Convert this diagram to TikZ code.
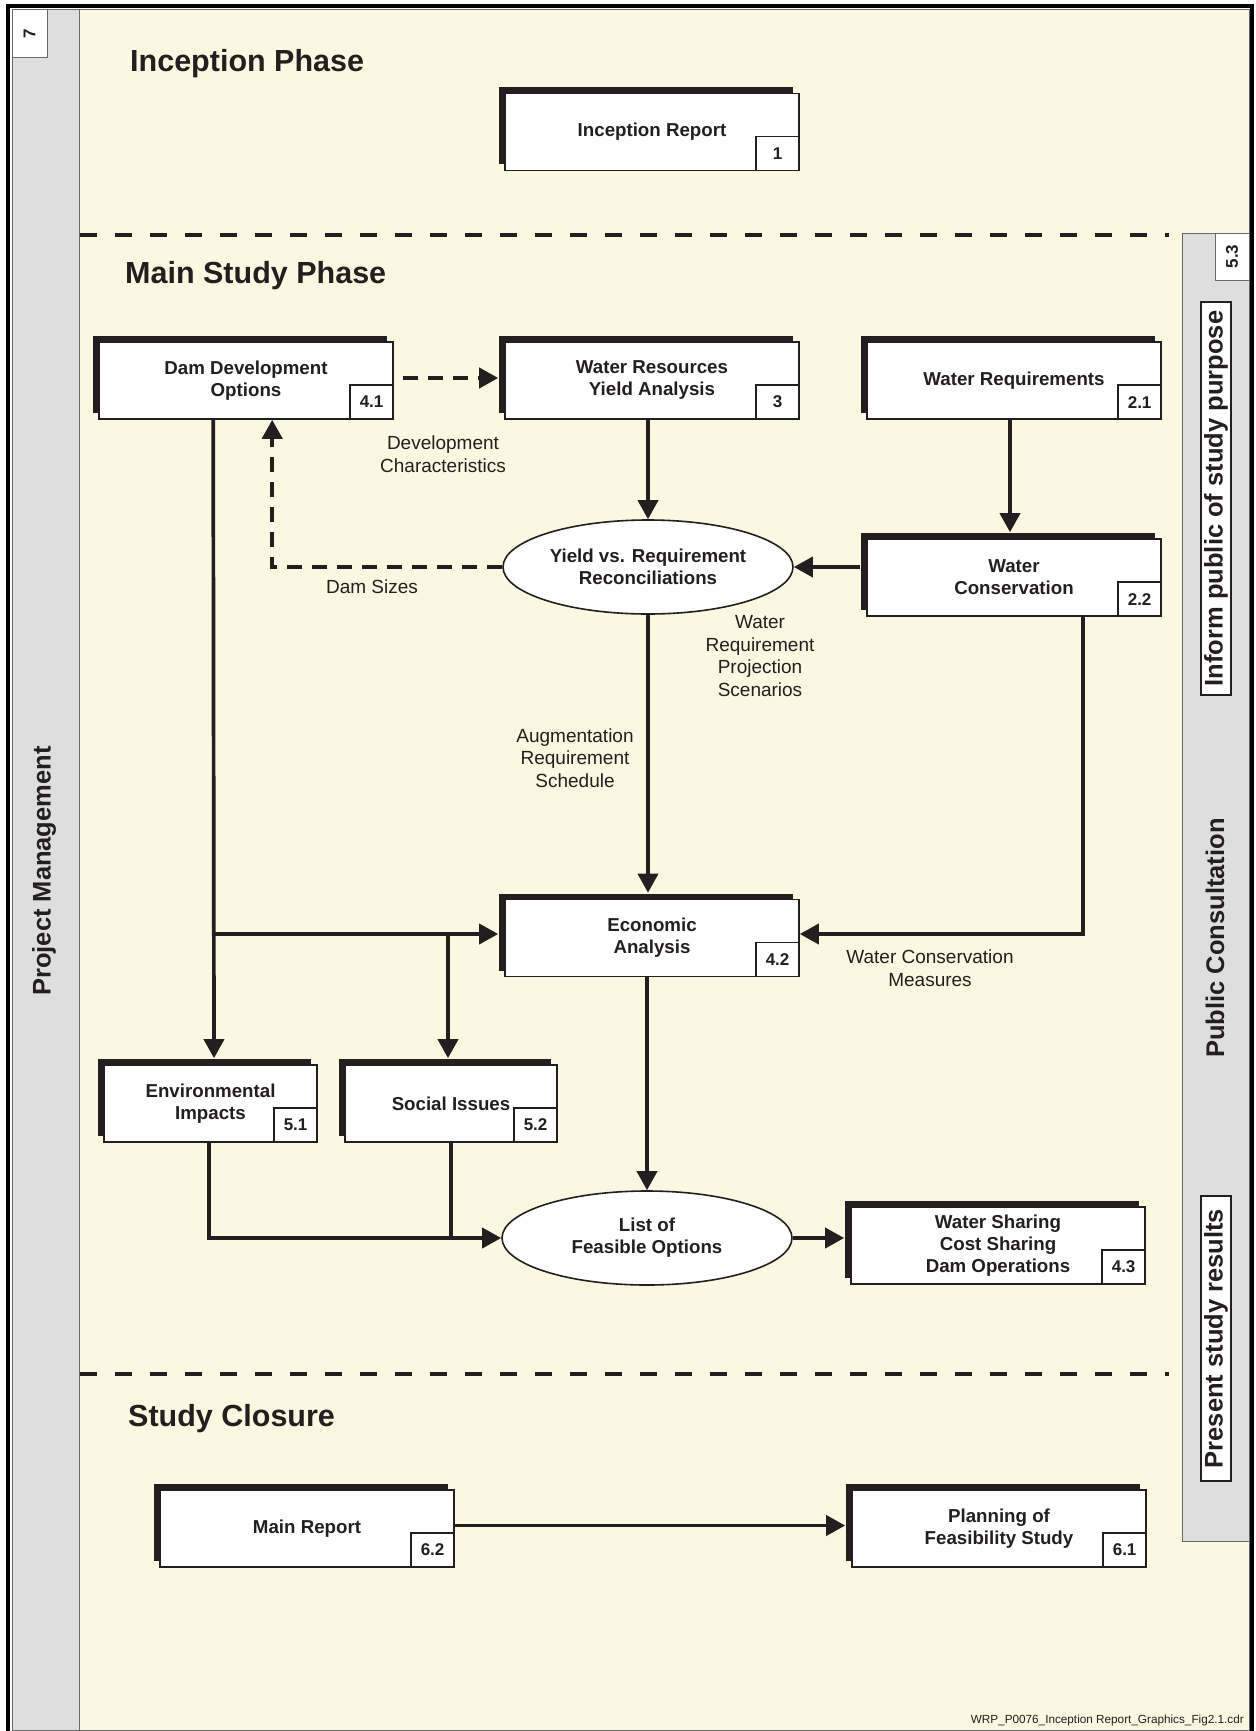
\documentclass[tikz,border=0pt]{standalone}
\usepackage{fontspec}
\setmainfont{Liberation Sans}
\usetikzlibrary{arrows.meta,shapes.geometric,shadows,calc}
\definecolor{cream}{RGB}{250,248,224}
\definecolor{panelgray}{RGB}{222,222,222}
\definecolor{ink}{RGB}{35,31,32}
\definecolor{edgegray}{RGB}{105,105,105}
\begin{document}
\begin{tikzpicture}[x=1pt,y=-1pt,
  boxfont/.style={font=\bfseries\fontsize{18.7}{22}\selectfont},
  procbox/.style={draw=ink, line width=1.6pt, fill=white, minimum width=294pt, minimum height=77pt,
    inner sep=0pt, align=center, text=ink, boxfont,
    general shadow={fill=ink, shadow xshift=-6pt, shadow yshift=6pt}},
  numbox/.style={draw=ink, line width=1.4pt, fill=white, minimum width=43pt, minimum height=34pt,
    inner sep=0pt, text=ink, font=\bfseries\fontsize{17}{20}\selectfont, anchor=south east},
  ellip/.style={ellipse, draw=ink, line width=1.6pt, fill=white, minimum width=290pt, minimum height=94pt,
    inner sep=0pt, align=center, text=ink, boxfont},
  arr/.style={draw=ink, line width=3.7pt, -{Triangle[length=19pt,width=20pt]}},
  conn/.style={draw=ink, line width=3.7pt},
  dasharr/.style={arr, line width=4pt, dash pattern=on 15pt off 10pt},
  phaseline/.style={draw=ink, line width=4.5pt, dash pattern=on 17pt off 18pt},
  lbl/.style={font=\fontsize{19}{22.7}\selectfont, text=ink, align=center, inner sep=0pt},
  heading/.style={font=\bfseries\fontsize{30.5}{36}\selectfont, text=ink, anchor=base west, inner sep=0pt},
  sidetext/.style={font=\bfseries\fontsize{25.5}{30}\selectfont, text=ink, inner sep=0pt},
  sidebox/.style={sidetext, draw=ink, line width=1.2pt, fill=white, minimum height=30pt},
  sidenum/.style={draw=edgegray, line width=1pt, fill=white, inner sep=0pt, text=ink,
    font=\bfseries\fontsize{17}{20}\selectfont}
]
\useasboundingbox (0,0) rectangle (1255,1731);
\clip (0,0) rectangle (1255,1731);
\fill[white] (0,0) rectangle (1255,1731);
\draw[black, line width=4pt] (8,6) rectangle (1252,1765);
\filldraw[fill=cream, draw=edgegray, line width=1pt] (12,10) rectangle (1249,1730);

% left panel
\filldraw[fill=panelgray, draw=edgegray, line width=1pt] (12,10) rectangle (79,1730);
\node[sidenum, rotate=90, minimum width=48pt, minimum height=35pt] (pmnum) at (29.5,34) {7};
\node[sidetext, rotate=90] (pm) at (44,871) {Project Management};

% right panel
\filldraw[fill=panelgray, draw=edgegray, line width=1pt] (1182,233) rectangle (1249,1541);
\node[sidenum, rotate=90, minimum width=47pt, minimum height=34pt] (pcnum) at (1232,256.5) {5.3};
\node[sidebox, rotate=90, minimum width=393pt] (inform) at (1216,498.5) {Inform public of study purpose};
\node[sidetext, rotate=90] (pc) at (1215,938) {Public Consultation};
\node[sidebox, rotate=90, minimum width=285pt] (present) at (1216,1338.5) {Present study results};

% phase separators
\coordinate (ph1a) at (80,235);
\coordinate (ph1b) at (1169,235);
\coordinate (ph2a) at (80,1374);
\coordinate (ph2b) at (1169,1374);
\draw[phaseline] (ph1a) -- (ph1b);
\draw[phaseline] (ph2a) -- (ph2b);

% headings
\node[heading] (hinc) at (130,72) {Inception Phase};
\node[heading] (hmain) at (125,283) {Main Study Phase};
\node[heading] (hclose) at (128,1426) {Study Closure};

% process boxes
\node[procbox] (b1) at (652,132) {Inception Report};
\node[numbox] (n1) at (b1.south east) {1};
\node[procbox] (b41) at (246,380.5) {Dam Development\\Options};
\node[numbox] (n41) at (b41.south east) {4.1};
\node[procbox] (b3) at (652,380.5) {Water Resources\\Yield Analysis};
\node[numbox] (n3) at (b3.south east) {3};
\node[procbox] (b21) at (1014,380.5) {Water Requirements};
\node[numbox] (n21) at (b21.south east) {2.1};
\node[procbox] (b22) at (1014,577.5) {Water\\Conservation};
\node[numbox] (n22) at (b22.south east) {2.2};
\node[procbox] (b42) at (652,938) {Economic\\Analysis};
\node[numbox] (n42) at (b42.south east) {4.2};
\node[procbox, minimum width=213pt] (b51) at (210.5,1103.5) {Environmental\\Impacts};
\node[numbox] (n51) at (b51.south east) {5.1};
\node[procbox, minimum width=212pt] (b52) at (451,1103.5) {Social Issues};
\node[numbox] (n52) at (b52.south east) {5.2};
\node[procbox] (b43) at (998,1245.5) {Water Sharing\\Cost Sharing\\Dam Operations};
\node[numbox] (n43) at (b43.south east) {4.3};
\node[procbox] (b62) at (307,1528.5) {Main Report};
\node[numbox] (n62) at (b62.south east) {6.2};
\node[procbox] (b61) at (999,1528.5) {Planning of\\Feasibility Study};
\node[numbox] (n61) at (b61.south east) {6.1};

% ellipses
\node[ellip] (e1) at (648,567) {Yield vs. Requirement\\Reconciliations};
\node[ellip] (e2) at (647,1238) {List of\\Feasible Options};

% connectors
\draw[dasharr] ($(b41.east)+(9,-2.5)$) -- ($(b3.west)+(-6,-2.5)$);
\draw[dasharr] (e1.west) -| ($(b41.south west)+(174,0)$);
\draw[arr] (e1.north |- b3.south) -- (e1.north);
\draw[arr] ($(b21.south)+(-4,0)$) -- ($(b22.north)+(-4,-6)$);
\draw[arr] ($(e1.east -| b22.west)+(-6,0)$) -- (e1.east);
\draw[arr] (e1.south) -- ($(e1.south |- b42.north)+(0,-6)$);
\draw[arr] ($(b22.south west)+(217,0)$) |- ($(b42.east)+(0,-4)$);
\coordinate (j1) at (214,934);
\coordinate (j2) at (448,934);
\draw[arr] ($(b41.south west)+(115,0)$) -- ($(b51.north)+(3.5,-6)$);
\draw[arr] (j1) -- ($(b42.west)+(-6,-4)$);
\draw[arr] (j2) -- ($(b52.north)+(-3,-6)$);
\draw[arr] (e2.north |- b42.south) -- (e2.north);
\draw[arr] ($(b51.south)+(-1.5,0)$) |- (e2.west);
\draw[conn] (b52.south) -- (b52.south |- e2.west);
\draw[arr] (e2.east) -- ($(e2.east -| b43.west)+(-6,0)$);
\draw[arr] ($(b62.east)+(0,-3)$) -- ($(b61.west)+(-6,-3)$);

% connector labels
\node[lbl] (ldev) at (443,454) {Development\\Characteristics};
\node[lbl] (ldam) at (372,587) {Dam Sizes};
\node[lbl] (lwrp) at (760,656) {Water\\Requirement\\Projection\\Scenarios};
\node[lbl] (laug) at (575,758) {Augmentation\\Requirement\\Schedule};
\node[lbl] (lwcm) at (930,968) {Water Conservation\\Measures};

% footer
\node[anchor=base east, inner sep=0pt, text=ink, font=\fontsize{11.75}{14}\selectfont] (foot) at (1244,1723)
  {WRP\_P0076\_Inception Report\_Graphics\_Fig2.1.cdr};
\end{tikzpicture}
\end{document}
